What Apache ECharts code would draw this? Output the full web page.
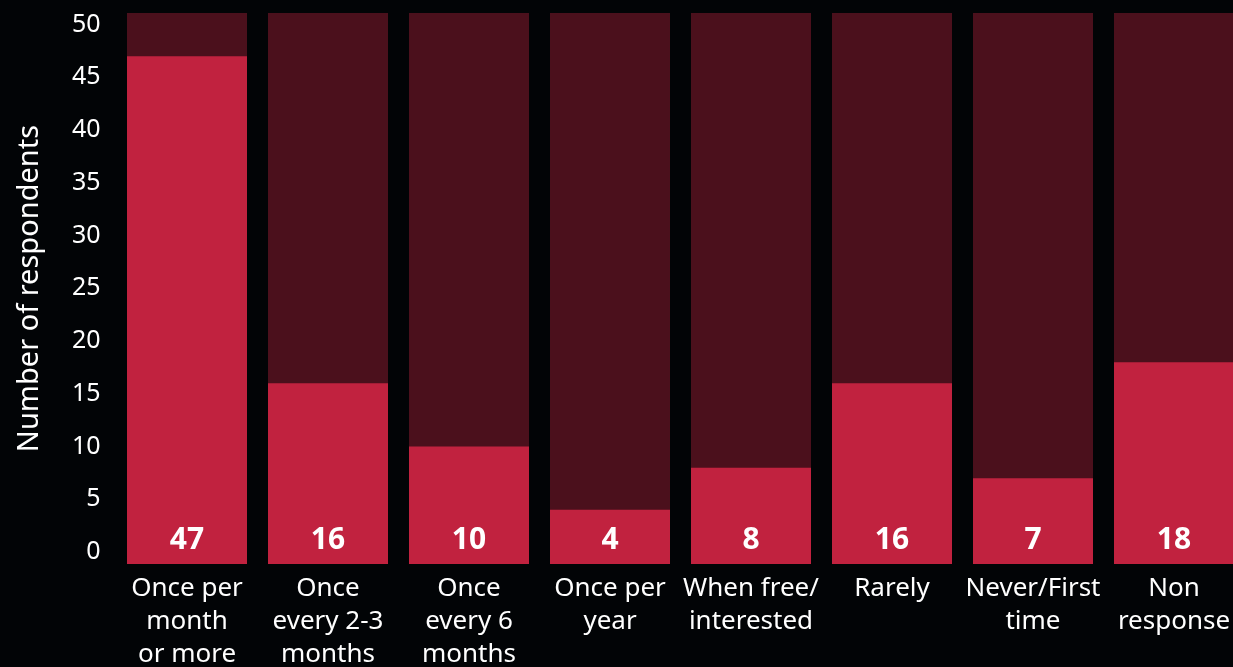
<!DOCTYPE html>
<html>
<head>
<meta charset="utf-8">
<script src="https://cdn.jsdelivr.net/npm/echarts@6/dist/echarts.min.js"></script>
<style>
html,body{margin:0;padding:0;background:#020406;}
#c{width:1233px;height:667px;}
</style>
</head>
<body>
<div id="c"></div>
<script>
// ---- data ----
const categories = [
  'Once per\nmonth\nor more',
  'Once\nevery 2-3\nmonths',
  'Once\nevery 6\nmonths',
  'Once per\nyear',
  'When free/\ninterested',
  'Rarely',
  'Never/First\ntime',
  'Non\nresponse'
];
const values = [47, 16, 10, 4, 8, 16, 7, 18];
const yTickValues = [0, 5, 10, 15, 20, 25, 30, 35, 40, 45, 50];
const axisMin = -1.1365; // bars start slightly below the 0 tick
const axisMax = 51.1;    // top of the background track

const RED = '#C1223F';
const DARK = '#4B101C';
const FONT = '"Noto Sans", "Open Sans", sans-serif';

const chart = echarts.init(document.getElementById('c'), null, {renderer: 'canvas'});
chart.setOption({
  backgroundColor: '#020406',
  animation: false,
  grid: {left: 116.5, width: 1128, top: 13, bottom: 103, containLabel: false, outerBoundsMode: 'none'},
  xAxis: {
    type: 'category',
    data: categories,
    axisLine: {show: false},
    axisTick: {show: false},
    axisLabel: {
      interval: 0,
      color: '#ffffff',
      fontFamily: FONT,
      fontSize: 26,
      lineHeight: 33,
      margin: 8
    }
  },
  yAxis: {
    type: 'value',
    min: axisMin,
    max: axisMax,
    name: 'Number of respondents',
    nameLocation: 'middle',
    nameGap: 72,
    nameRotate: 90,
    nameTextStyle: {color: '#ffffff', fontFamily: FONT, fontSize: 29},
    axisLine: {show: false},
    axisTick: {show: false},
    splitLine: {show: false},
    axisLabel: {
      customValues: yTickValues,
      color: '#ffffff',
      fontFamily: FONT,
      fontSize: 25,
      margin: 16
    }
  },
  series: [
    {
      name: 'track',
      type: 'bar',
      data: values.map(() => axisMax),
      barWidth: 120,
      barGap: '-100%',
      itemStyle: {color: DARK},
      z: 1,
      silent: true
    },
    {
      name: 'base',
      type: 'bar',
      stack: 'v',
      data: values.map(() => axisMin),
      barWidth: 120,
      barGap: '-100%',
      itemStyle: {color: RED, borderColor: RED, borderWidth: 2},
      z: 2,
      silent: true
    },
    {
      name: 'Respondents',
      type: 'bar',
      stack: 'v',
      data: values,
      barWidth: 120,
      barGap: '-100%',
      itemStyle: {color: RED},
      z: 3,
      label: {
        show: true,
        position: 'insideBottom',
        distance: -3,
        color: '#ffffff',
        fontFamily: FONT,
        fontWeight: 'bold',
        fontSize: 30,
        lineHeight: 30
      }
    }
  ]
});
</script>
</body>
</html>
